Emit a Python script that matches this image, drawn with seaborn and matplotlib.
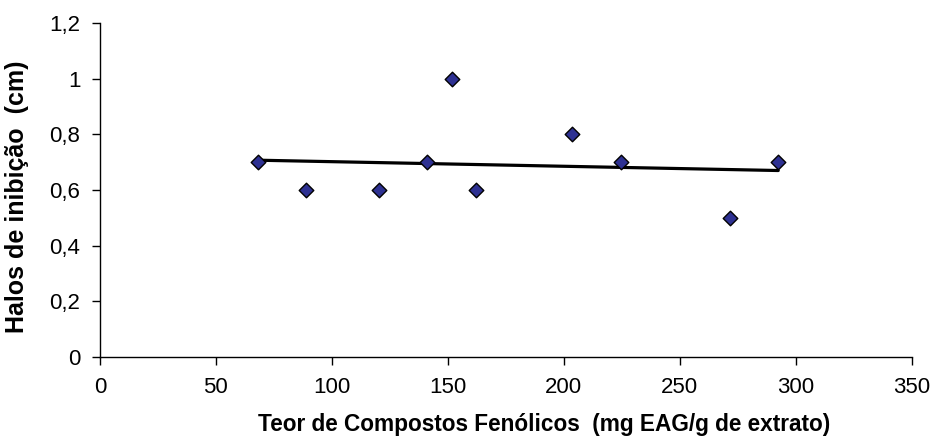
import numpy as np
import pandas as pd
import seaborn as sns
import matplotlib
matplotlib.use("Agg")
import matplotlib.pyplot as plt
from matplotlib.ticker import FuncFormatter, MultipleLocator

# leitura aproximada do grafico
fenolicos = [68, 89, 120.5, 141, 152, 162, 203.5, 224.5, 271.5, 292.5]
halos = [0.7, 0.6, 0.6, 0.7, 1.0, 0.6, 0.8, 0.7, 0.5, 0.7]

df = pd.DataFrame({"fenolicos": fenolicos, "halos": halos})

sns.set_style("ticks")
plt.rcParams['font.family'] = ['Liberation Sans', 'DejaVu Sans']
plt.rcParams['text.color'] = 'black'
plt.rcParams['axes.labelcolor'] = 'black'
plt.rcParams['xtick.color'] = 'black'
plt.rcParams['ytick.color'] = 'black'

fig = plt.figure(figsize=(9.34, 4.42), dpi=100)
ax = fig.add_axes([0.107, 0.192, 0.869, 0.756])

sns.regplot(data=df, x="fenolicos", y="halos", ax=ax, scatter=False, ci=None,
            truncate=True, line_kws={"color": "black", "lw": 2.3})
sns.scatterplot(data=df, x="fenolicos", y="halos", ax=ax, marker="D", s=55,
                color="#2e3192", edgecolor="black", linewidth=1, zorder=3)

ax.set_xlim(0, 350)
ax.set_ylim(0, 1.2)
ax.xaxis.set_major_locator(MultipleLocator(50))
ax.yaxis.set_major_locator(MultipleLocator(0.2))
ax.yaxis.set_major_formatter(FuncFormatter(lambda v, p: f"{v:g}".replace(".", ",")))

ax.tick_params(axis="both", direction="out", length=6, width=1, labelsize=16)
ax.tick_params(axis="x", pad=8)
ax.tick_params(axis="y", pad=8)
for s in ["left", "bottom"]:
    ax.spines[s].set_color("black")
    ax.spines[s].set_linewidth(1)
sns.despine(ax=ax)

ax.set_xlabel("Teor de Compostos Fenólicos  (mg EAG/g de extrato)", fontsize=16.3,
              fontweight="bold")
ax.set_ylabel("Halos de inibição  (cm)", fontsize=18, fontweight="bold")
ax.xaxis.set_label_coords(0.547, -0.168)
ax.yaxis.set_label_coords(-0.088, 0.479)

fig.savefig("out.png", dpi=100)
